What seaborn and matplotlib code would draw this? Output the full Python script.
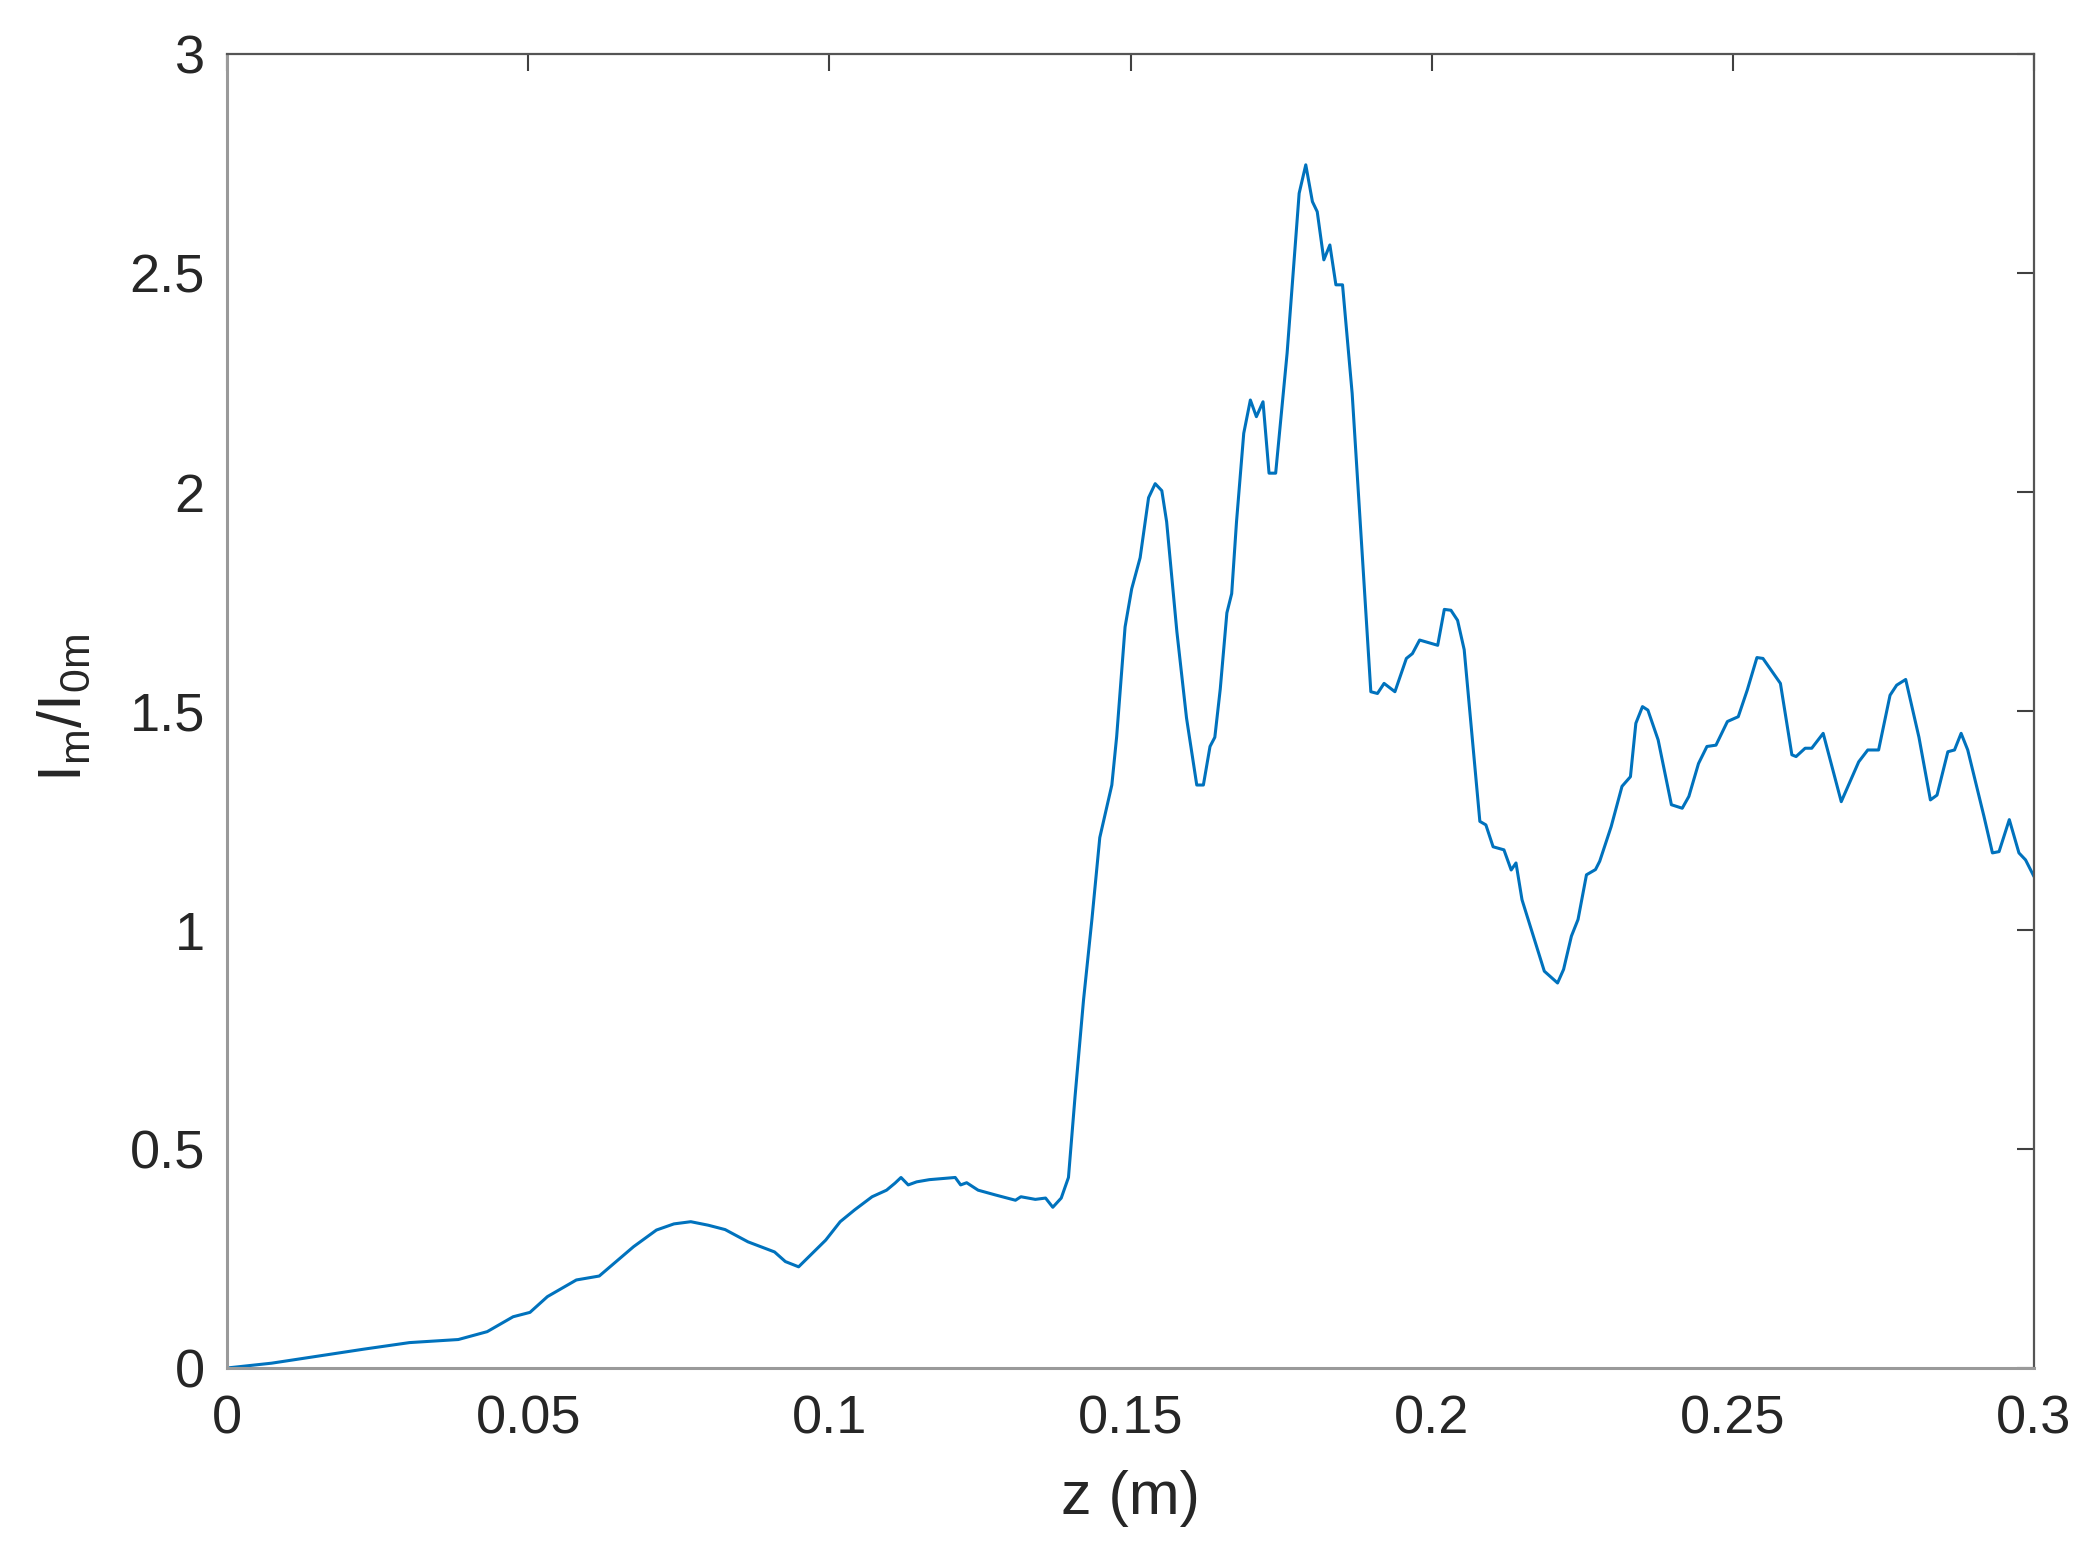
import numpy as np
import pandas as pd
import matplotlib
matplotlib.use("Agg")
import matplotlib.pyplot as plt
import seaborn as sns

# --- data ---
z_m = [0.0, 0.0074, 0.0227, 0.0303, 0.0384, 0.0432, 0.0475, 0.0503, 0.0532, 0.058,
       0.0618, 0.0675, 0.0713, 0.0742, 0.077, 0.0799, 0.0827, 0.0865, 0.0909, 0.0927,
       0.0949, 0.0994, 0.1018, 0.1042, 0.1071, 0.1095, 0.1109, 0.1119, 0.1131, 0.1145,
       0.1166, 0.1209, 0.1218, 0.1228, 0.1247, 0.1276, 0.1309, 0.1318, 0.1342, 0.1359,
       0.1371, 0.1385, 0.1397, 0.1408, 0.1422, 0.1436, 0.1449, 0.1469, 0.1477, 0.1491,
       0.1502, 0.1516, 0.153, 0.1541, 0.1552, 0.156, 0.1577, 0.1593, 0.161, 0.1621,
       0.1632, 0.164, 0.1649, 0.166, 0.1668, 0.1676, 0.1688, 0.1699, 0.1709, 0.172,
       0.173, 0.1741, 0.176, 0.178, 0.1791, 0.1802, 0.181, 0.1821, 0.1831, 0.1841,
       0.1852, 0.1868, 0.1899, 0.191, 0.1921, 0.1939, 0.1958, 0.1968, 0.198, 0.201,
       0.2021, 0.2032, 0.2043, 0.2054, 0.208, 0.209, 0.2102, 0.212, 0.2132, 0.214,
       0.215, 0.2187, 0.2209, 0.2219, 0.2232, 0.2243, 0.2257, 0.2272, 0.2279, 0.2298,
       0.2316, 0.233, 0.2339, 0.235, 0.2359, 0.2376, 0.2398, 0.2416, 0.2427, 0.2443,
       0.2457, 0.2472, 0.2491, 0.2509, 0.2524, 0.254, 0.255, 0.2579, 0.2598, 0.2605,
       0.262, 0.2631, 0.265, 0.268, 0.2709, 0.2724, 0.2742, 0.2761, 0.2772, 0.2787,
       0.2809, 0.2828, 0.2839, 0.2857, 0.2868, 0.2879, 0.289, 0.2917, 0.2931, 0.2942,
       0.2959, 0.2975, 0.2986, 0.3]
ratio = [0.0, 0.011, 0.043, 0.058, 0.065, 0.083, 0.117, 0.127, 0.163, 0.201,
         0.21, 0.277, 0.315, 0.329, 0.334, 0.326, 0.316, 0.288, 0.265, 0.243,
         0.231, 0.292, 0.334, 0.361, 0.391, 0.406, 0.422, 0.435, 0.418, 0.425,
         0.43, 0.435, 0.418, 0.423, 0.406, 0.395, 0.383, 0.391, 0.385, 0.388,
         0.367, 0.388, 0.435, 0.621, 0.84, 1.025, 1.211, 1.331, 1.441, 1.692,
         1.779, 1.85, 1.987, 2.019, 2.003, 1.932, 1.681, 1.484, 1.331, 1.331,
         1.419, 1.44, 1.55, 1.724, 1.768, 1.932, 2.134, 2.21, 2.172, 2.206,
         2.043, 2.043, 2.317, 2.682, 2.747, 2.663, 2.64, 2.53, 2.564, 2.473,
         2.473, 2.225, 1.544, 1.54, 1.563, 1.544, 1.62, 1.631, 1.662, 1.65,
         1.732, 1.73, 1.707, 1.64, 1.248, 1.24, 1.19, 1.183, 1.137, 1.153,
         1.069, 0.906, 0.879, 0.91, 0.986, 1.024, 1.126, 1.138, 1.157, 1.236,
         1.328, 1.35, 1.472, 1.51, 1.502, 1.434, 1.286, 1.278, 1.305, 1.38,
         1.419, 1.422, 1.476, 1.487, 1.548, 1.622, 1.62, 1.563, 1.4, 1.396,
         1.415, 1.415, 1.449, 1.293, 1.384, 1.411, 1.411, 1.536, 1.559, 1.572,
         1.44, 1.297, 1.308, 1.407, 1.411, 1.449, 1.411, 1.259, 1.176, 1.179,
         1.252, 1.176, 1.16, 1.122]

x_ticks = [0, 0.05, 0.1, 0.15, 0.2, 0.25, 0.3]
x_tick_labels = ['0', '0.05', '0.1', '0.15', '0.2', '0.25', '0.3']
y_ticks = [0, 0.5, 1, 1.5, 2, 2.5, 3]
y_tick_labels = ['0', '0.5', '1', '1.5', '2', '2.5', '3']


def make_plot():
    sns.set_style('white')
    plt.rcParams['font.family'] = ['Liberation Sans', 'DejaVu Sans']
    plt.rcParams['mathtext.fontset'] = 'custom'
    plt.rcParams['mathtext.rm'] = 'Liberation Sans'

    df = pd.DataFrame({'z': z_m, 'ratio': ratio})

    fig = plt.figure(figsize=(20.92, 15.51), dpi=100)
    ax = fig.add_axes([227 / 2092, 1 - 1368 / 1551, 1807 / 2092, 1314 / 1551])

    sns.lineplot(data=df, x='z', y='ratio', ax=ax, color='#0072BD',
                 linewidth=2.2, sort=False, estimator=None)

    ax.set_xlim(0, 0.3)
    ax.set_ylim(0, 3)
    ax.set_xticks(x_ticks)
    ax.set_xticklabels(x_tick_labels)
    ax.set_yticks(y_ticks)
    ax.set_yticklabels(y_tick_labels)

    ax.tick_params(axis='both', which='both', direction='in', length=12,
                   width=1.5, color='#404040', labelsize=39, labelcolor='#262626',
                   top=True, right=True)
    ax.tick_params(axis='x', pad=19)
    ax.tick_params(axis='y', pad=16)

    for side in ['left', 'bottom']:
        ax.spines[side].set_color('#9a9a9a')
        ax.spines[side].set_linewidth(2.2)
    for side in ['top', 'right']:
        ax.spines[side].set_color('#555555')
        ax.spines[side].set_linewidth(1.6)

    ax.set_xlabel('z (m)', fontsize=44, color='#262626')
    ax.set_ylabel(r'$\mathregular{I_m/I_{0m}}$', fontsize=44, color='#262626')
    ax.xaxis.set_label_coords(0.5, -0.078)
    ax.yaxis.set_label_coords(-0.074, 0.502)

    fig.savefig('out.png', dpi=100, facecolor='white')


if __name__ == "__main__":
    make_plot()
